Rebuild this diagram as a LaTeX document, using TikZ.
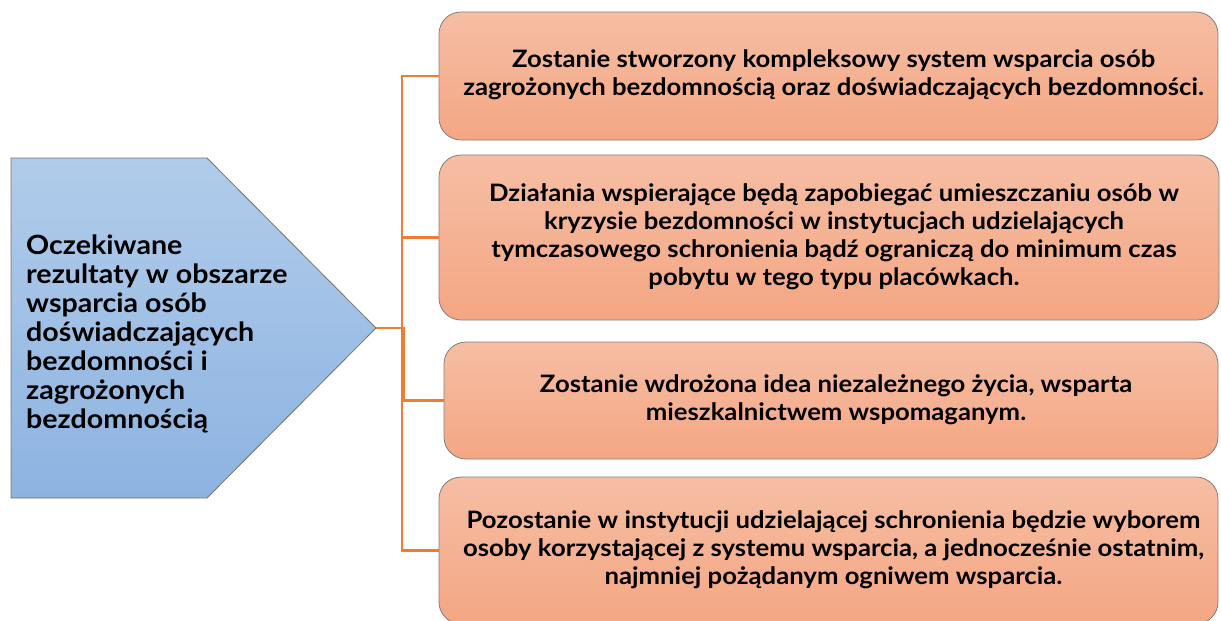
\documentclass[tikz,border=0pt]{standalone}
\usepackage{fontspec}
\setmainfont{Lato}
\newfontfamily\widelato{Lato}[FakeStretch=1.07]
\newfontfamily\widerlato{Lato}[FakeStretch=1.08]
\newcommand\boxtext[1]{\hspace*{10pt}\begin{tabular}{@{}c@{}}#1\end{tabular}}
\begin{document}
\begin{tikzpicture}[x=1pt,y=-1pt,
  resbox/.style={draw=black!50, line width=0.8pt, rounded corners=22pt,
    top color=orange1top, bottom color=orange1bot,
    font=\widelato\fontsize{24}{28}\selectfont\bfseries, inner sep=0pt},
  conn/.style={draw=connorange, line width=2.2pt}]
\definecolor{orange1top}{HTML}{F6BEA4}
\definecolor{orange1bot}{HTML}{F4A683}
\definecolor{bluetop}{HTML}{B1CCEA}
\definecolor{bluebot}{HTML}{8DB3E1}
\definecolor{connorange}{HTML}{ED7D31}
\useasboundingbox (0,0) rectangle (1221,621);
% pentagon
\path[draw=black!55, line width=0.8pt, top color=bluetop, bottom color=bluebot]
  (11,158) -- (207,158) -- (376,328) -- (207,498) -- (11,498) -- cycle;
\coordinate (tip) at (376,328);
\node[anchor=west, align=left, inner sep=0pt,
  font=\widerlato\fontsize{26.5}{29}\selectfont\bfseries] (lt) at (26,334)
  {Oczekiwane\\rezultaty w obszarze\\wsparcia osób\\doświadczających\\bezdomności i\\zagrożonych\\bezdomnością};
% result boxes
\node[resbox, minimum width=779pt, minimum height=128pt] (b1) at (828.5,76)
  {\boxtext{Zostanie stworzony kompleksowy system wsparcia osób\\zagrożonych bezdomnością oraz doświadczających bezdomności.}};
\node[resbox, minimum width=780pt, minimum height=165pt] (b2) at (829,237.5)
  {\boxtext{Działania wspierające będą zapobiegać umieszczaniu osób w\\kryzysie bezdomności w instytucjach udzielających\\tymczasowego schronienia bądź ograniczą do minimum czas\\pobytu w tego typu placówkach.}};
\node[resbox, minimum width=774pt, minimum height=117pt] (b3) at (831,400.5)
  {\boxtext{Zostanie wdrożona idea niezależnego życia, wsparta\\mieszkalnictwem wspomaganym.}};
\node[resbox, minimum width=779pt, minimum height=147pt] (b4) at (828.5,550.5)
  {\boxtext{Pozostanie w instytucji udzielającej schronienia będzie wyborem\\osoby korzystającej z systemu wsparcia, a jednocześnie ostatnim,\\najmniej pożądanym ogniwem wsparcia.}};
% connectors
\draw[conn] (tip) -- ++(26,0) |- (b1.west);
\draw[conn] (tip) -- ++(26,0) |- (b2.west);
\draw[conn] (tip) -- ++(28,0) |- (b3.west);
\draw[conn] (tip) -- ++(26,0) |- (b4.west);
\end{tikzpicture}
\end{document}
